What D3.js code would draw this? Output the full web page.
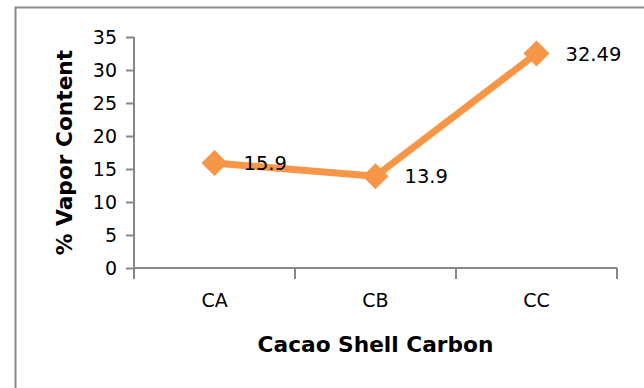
<!DOCTYPE html>
<html>
<head>
<meta charset="utf-8">
<script src="https://cdn.jsdelivr.net/npm/d3@7"></script>
<style>
  html, body { margin: 0; padding: 0; background: #fff; }
  svg { display: block; }
  text { font-family: "DejaVu Sans", Verdana, sans-serif; fill: #000; }
</style>
</head>
<body>
<svg id="chart" width="644" height="388"></svg>
<script>
// Vapor content per cacao shell carbon sample
const categories = ["CA", "CB", "CC"];
const vaporValues = [15.9, 13.9, 32.49];
const valueLabels = ["15.9", "13.9", "32.49"];
const yTicks = [0, 5, 10, 15, 20, 25, 30, 35];

const svg = d3.select("#chart");
const W = 644, H = 388;
const plot = { left: 134, right: 617, top: 37, bottom: 268 };
const axisColor = "#868686";
const seriesColor = "#F79646";

// chart area frame (left and top edges are visible)
svg.append("path")
  .attr("d", `M15.5,${H} V7.5 H${W}`)
  .attr("fill", "none")
  .attr("stroke", "#8a8a8a")
  .attr("stroke-width", 2);

const x = d3.scaleBand().domain(categories).range([plot.left, plot.right]).padding(0);
const y = d3.scaleLinear().domain([0, 35]).range([plot.bottom, plot.top]);

// y axis
const yAxis = svg.append("g")
  .attr("transform", `translate(${plot.left},0)`)
  .call(d3.axisLeft(y).tickValues(yTicks).tickSize(8).tickPadding(9).tickSizeOuter(0));
yAxis.select(".domain").remove();
yAxis.selectAll(".tick line").attr("stroke", axisColor).attr("stroke-width", 2);
yAxis.selectAll(".tick text")
  .attr("font-size", 19)
  .attr("font-family", "DejaVu Sans, sans-serif")
  .attr("fill", "#000")
  .attr("dy", "0.36em");
svg.append("line")
  .attr("x1", plot.left).attr("x2", plot.left)
  .attr("y1", plot.top).attr("y2", plot.bottom + 11)
  .attr("stroke", axisColor).attr("stroke-width", 2);

// x axis: labels centred in bands, tick marks at band edges
const xAxis = svg.append("g")
  .attr("transform", `translate(0,${plot.bottom})`)
  .call(d3.axisBottom(x).tickSize(0).tickPadding(0).tickSizeOuter(0));
xAxis.select(".domain").remove();
xAxis.selectAll(".tick text")
  .attr("font-size", 19)
  .attr("font-family", "DejaVu Sans, sans-serif")
  .attr("fill", "#000")
  .attr("dy", null)
  .attr("y", 39);
svg.append("line")
  .attr("x1", plot.left).attr("x2", plot.right)
  .attr("y1", plot.bottom).attr("y2", plot.bottom)
  .attr("stroke", axisColor).attr("stroke-width", 2);
const edges = categories.map(c => x(c)).concat([x(categories[categories.length - 1]) + x.bandwidth()]);
svg.selectAll("line.xedge").data(edges.slice(1)).enter().append("line")
  .attr("class", "xedge")
  .attr("x1", d => d).attr("x2", d => d)
  .attr("y1", plot.bottom).attr("y2", plot.bottom + 11)
  .attr("stroke", axisColor).attr("stroke-width", 2);

// axis titles
svg.append("text")
  .attr("x", (plot.left + plot.right) / 2)
  .attr("y", 352)
  .attr("text-anchor", "middle")
  .attr("font-size", 21.7)
  .attr("font-weight", "bold")
  .text("Cacao Shell Carbon");

svg.append("text")
  .attr("transform", "translate(72,152.5) rotate(-90)")
  .attr("text-anchor", "middle")
  .attr("font-size", 21.7)
  .attr("font-weight", "bold")
  .text("% Vapor Content");

// series line and markers
const pts = categories.map((c, i) => ({ c, v: vaporValues[i], label: valueLabels[i] }));
const cx = d => x(d.c) + x.bandwidth() / 2;

svg.append("path")
  .datum(pts)
  .attr("d", d3.line().x(cx).y(d => y(d.v)))
  .attr("fill", "none")
  .attr("stroke", seriesColor)
  .attr("stroke-width", 7)
  .attr("stroke-linejoin", "round");

svg.selectAll("path.marker").data(pts).enter().append("path")
  .attr("class", "marker")
  .attr("d", d3.symbol().type(d3.symbolSquare).size(340))
  .attr("transform", d => `translate(${cx(d)},${y(d.v)}) rotate(45)`)
  .attr("fill", seriesColor);

// value labels to the right of each point
svg.selectAll("text.vlabel").data(pts).enter().append("text")
  .attr("class", "vlabel")
  .attr("x", d => cx(d) + 29)
  .attr("y", d => y(d.v))
  .attr("dy", "0.36em")
  .attr("font-size", 19.5)
  .text(d => d.label);
</script>
</body>
</html>
